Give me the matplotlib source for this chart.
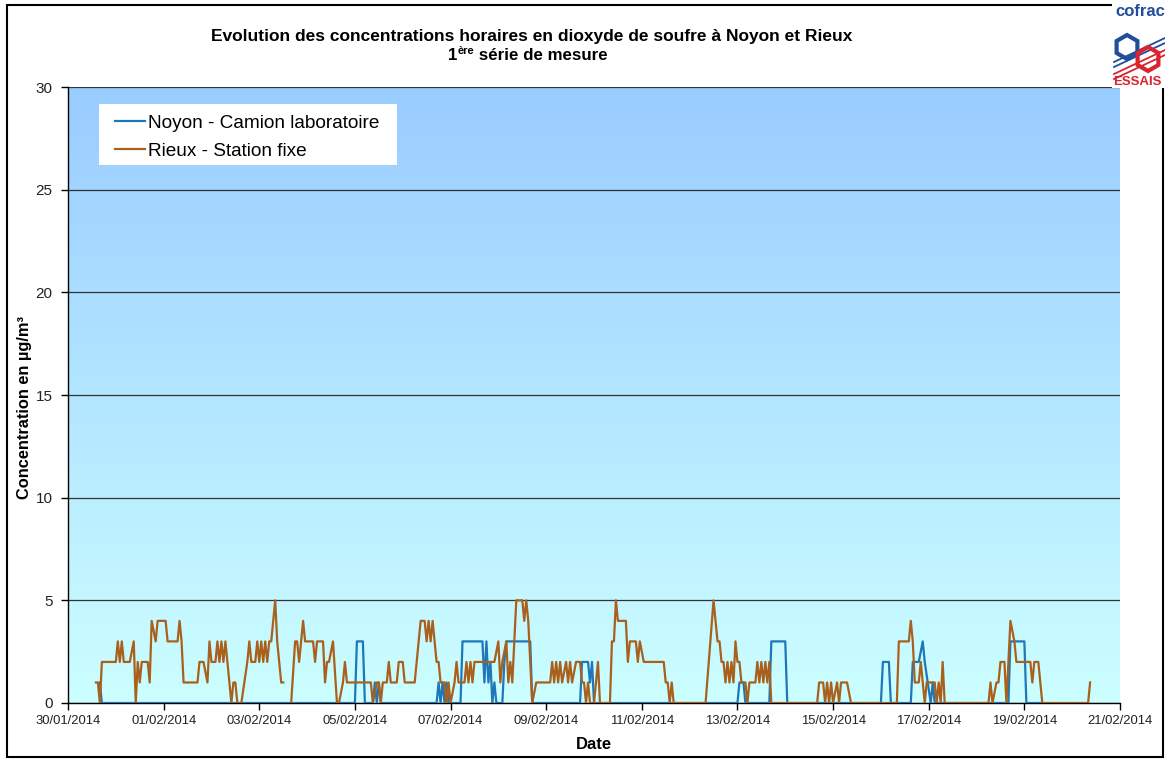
import numpy as np
import pandas as pd
import matplotlib
matplotlib.use("Agg")
import matplotlib.pyplot as plt
import matplotlib.dates as mdates
from matplotlib.patches import Rectangle, RegularPolygon
from matplotlib.lines import Line2D

plt.rcParams['font.family'] = ['Liberation Sans', 'DejaVu Sans']

# hourly SO2 concentrations (µg/m3), hours counted from 30/01/2014 00:00
# only the turning points of each curve are kept
noyon_hours = [16, 17, 144, 145, 148, 149, 153, 154, 155, 156, 157, 185, 186, 187, 188, 189, 190, 191,
               197, 198, 207, 208, 209, 210, 211, 212, 213, 214, 215, 218, 219, 220, 232, 233,
               257, 258, 261, 262, 263, 264, 336, 337, 339, 340, 352, 353, 360, 361,
               408, 409, 412, 413, 423, 424, 427, 429, 430, 433, 434, 435, 472, 473, 480, 481, 489]
noyon_values = [1, 0, 0, 3, 3, 0, 0, 1, 0, 1, 0, 0, 1, 0, 1, 0, 1, 0,
                0, 3, 3, 3, 1, 3, 1, 2, 0, 1, 0, 0, 2, 3, 3, 0,
                0, 2, 2, 1, 2, 0, 0, 1, 1, 0, 0, 3, 3, 0,
                0, 2, 2, 0, 0, 2, 2, 3, 2, 0, 1, 0, 0, 3, 3, 0, 0]

rieux_hours = [14, 15, 16, 17, 24, 25, 26, 27, 28, 31, 33, 34, 35, 36, 37, 40, 41, 42, 44, 45, 49, 50,
               55, 56, 57, 58, 65, 66, 68, 70, 71, 72, 74, 75, 76, 77, 78, 79, 80, 82, 83, 84, 85, 87,
               90, 91, 92, 94, 95, 96, 97, 98, 99, 100, 101, 102, 104, 105, 107, 108, 110, 112, 114,
               115, 116, 118, 119, 123, 124, 125, 128, 129, 130, 131, 133, 135, 136, 138, 139, 140,
               152, 153, 155, 156, 157, 158, 160, 161, 162, 165, 166, 168, 169, 174, 175, 176, 177,
               179, 180, 181, 182, 183, 184, 185, 186, 187, 189, 190, 191, 192, 194, 195, 196, 199,
               200, 201, 202, 203, 204, 214, 216, 217, 218, 220, 221, 222, 223, 224, 225, 228, 229,
               230, 231, 233, 235, 242, 243, 244, 245, 246, 247, 248, 250, 251, 252, 253, 255, 257,
               258, 259, 260, 261, 262, 264, 266, 267, 272, 273, 274, 275, 276, 280, 281, 282, 285,
               286, 287, 289, 299, 300, 301, 302, 303, 304, 320, 324, 325, 326, 327, 328, 329, 330,
               331, 332, 333, 334, 335, 336, 337, 338, 340, 341, 342, 345, 346, 347, 348, 349, 350,
               351, 352, 353, 376, 377, 379, 380, 381, 382, 383, 384, 386, 387, 388, 391, 393, 416,
               417, 422, 423, 424, 425, 427, 428, 429, 430, 431, 435, 436, 437, 438, 439, 440, 462,
               463, 464, 466, 467, 468, 470, 471, 473, 475, 476, 483, 484, 485, 487, 489, 512, 513]
rieux_values = [1, 1, 0, 2, 2, 3, 2, 3, 2, 2, 3, 0, 2, 1, 2, 2, 1, 4, 3, 4, 4, 3,
                3, 4, 3, 1, 1, 2, 2, 1, 3, 2, 2, 3, 2, 3, 2, 3, 2, 0, 1, 1, 0, 0,
                2, 3, 2, 2, 3, 2, 3, 2, 3, 2, 3, 3, 5, 3, 1, 1, np.nan, 0, 3,
                3, 2, 4, 3, 3, 2, 3, 3, 1, 2, 2, 3, 0, 0, 1, 2, 1,
                1, 0, 1, 1, 0, 1, 1, 2, 1, 1, 2, 2, 1, 1, 2, 3, 4,
                4, 3, 4, 3, 4, 3, 2, 2, 1, 1, 0, 1, 0, 1, 2, 1, 1,
                2, 1, 2, 1, 2, 2, 3, 1, 2, 3, 1, 2, 1, 3, 5, 5, 4,
                5, 4, 0, 1, 1, 2, 1, 2, 1, 2, 1, 2, 1, 2, 1, 2, 2,
                1, 1, 0, 1, 0, 0, 2, 0, 0, 3, 3, 5, 4, 4, 2, 3, 3,
                2, 3, 2, 2, 1, 1, 0, 1, 0, 0, 5, 4, 3, 3, 2, 2, 1,
                2, 1, 2, 1, 3, 2, 2, 1, 1, 0, 1, 1, 2, 1, 2, 1, 2,
                1, 2, 0, 0, 1, 1, 0, 1, 0, 1, 0, 1, 0, 1, 1, 0, 0,
                3, 3, 4, 3, 1, 1, 2, 1, 0, 1, 1, 0, 1, 0, 2, 0, 0,
                1, 0, 1, 1, 2, 2, 0, 4, 3, 2, 2, 1, 2, 2, 0, 0, 1]

series_names = ['Noyon - Camion laboratoire', 'Rieux - Station fixe']
series_colors = ['#1f77b8', '#a8601c']
title_line1 = 'Evolution des concentrations horaires en dioxyde de soufre à Noyon et Rieux'

start = pd.Timestamp('2014-01-30')
end = pd.Timestamp('2014-02-21')
t_noyon = (start + pd.to_timedelta(noyon_hours, unit='h')).to_pydatetime()
t_rieux = (start + pd.to_timedelta(rieux_hours, unit='h')).to_pydatetime()
date_ticks = pd.date_range(start, end, freq='2D').to_pydatetime()

W, H = 1165, 760
fig = plt.figure(figsize=(W / 100, H / 100), dpi=100)
ax = fig.add_axes([68 / W, 57 / H, 1052 / W, 616 / H])
ax.patch.set_facecolor('none')

# gradient background of the plot area
grad = np.linspace(0, 1, 256)[:, None]
top_col = np.array([153, 204, 255]) / 255
bot_col = np.array([204, 255, 255]) / 255
img = top_col[None, None, :] * (1 - grad[:, :, None]) + bot_col[None, None, :] * grad[:, :, None]
ax.imshow(img, extent=[0, 1, 0, 1], transform=ax.transAxes, aspect='auto', zorder=-1)

ax.plot(t_noyon, noyon_values, color=series_colors[0], lw=1.6, label=series_names[0], zorder=3)
ax.plot(t_rieux, rieux_values, color=series_colors[1], lw=1.6, label=series_names[1], zorder=4)

ax.set_xlim(start.to_pydatetime(), end.to_pydatetime())
ax.set_ylim(0, 30)
ax.set_yticks(range(0, 31, 5))
ax.set_xticks(date_ticks)
ax.xaxis.set_major_formatter(mdates.DateFormatter('%d/%m/%Y'))
ax.yaxis.grid(True, color='#333333', lw=0.9)
ax.set_axisbelow(True)

for s in ['top', 'right']:
    ax.spines[s].set_visible(False)
for s in ['left', 'bottom']:
    ax.spines[s].set_color('black')
    ax.spines[s].set_linewidth(1)
ax.tick_params(axis='both', direction='out', length=5, width=1, color='black')
ax.tick_params(axis='y', labelsize=11, pad=6, labelcolor='#222222')
ax.tick_params(axis='x', labelsize=9.4, pad=4, labelcolor='#222222')

ax.set_ylabel('Concentration en µg/m³', fontsize=11.8, fontweight='bold')
ax.yaxis.set_label_coords(-0.034, 0.479)
ax.set_xlabel('Date', fontsize=12, fontweight='bold')
ax.xaxis.set_label_coords(0.5, -0.056)

# legend: white box plus frameless legend
ax.add_patch(Rectangle((0.0295, 0.8734), 0.2833, 0.099, transform=ax.transAxes,
                       facecolor='white', edgecolor='none', zorder=5))
leg = ax.legend(loc='upper left', bbox_to_anchor=(0.0447, 0.955), fontsize=13.7, frameon=False,
                borderaxespad=0, borderpad=0, handlelength=1.58, handletextpad=0.16,
                labelspacing=0.55)
leg.set_zorder(6)

# title
fig.text(532 / W, 1 - 37 / H, title_line1, ha='center', va='center', fontsize=12.5, fontweight='bold')
r = fig.canvas.get_renderer()
y2 = 1 - 60 / H
p1 = fig.text(0, y2, '1', fontsize=12.2, fontweight='bold', va='baseline')
p2 = fig.text(0, y2, 'ère', fontsize=8, fontweight='bold', va='baseline')
p3 = fig.text(0, y2, ' série de mesure', fontsize=12.2, fontweight='bold', va='baseline')
w1 = p1.get_window_extent(r).width
w2 = p2.get_window_extent(r).width
w3 = p3.get_window_extent(r).width
x0 = 528 - (w1 + w2 + w3) / 2
p1.set_position((x0 / W, y2))
p2.set_position(((x0 + w1) / W, y2 + 6 / H))
p3.set_position(((x0 + w1 + w2) / W, y2))

# outer border
fig.add_artist(Rectangle((7 / W, 3 / H), 1156 / W, 752 / H, transform=fig.transFigure,
                         fill=False, lw=1.5, edgecolor='black'))

# cofrac logo (rough)
fig.add_artist(Rectangle((1112 / W, 1 - 88 / H), 53 / W, 88 / H, transform=fig.transFigure,
                         facecolor='white', edgecolor='none', zorder=5))
fig.text(1115 / W, 1 - 12 / H, 'cofrac', color='#1f4e9c', fontsize=12, fontweight='bold',
         va='center', ha='left', zorder=6)
for cx, cy, col in [(1127, 47, '#1f4e9c'), (1148, 59, '#d9232e')]:
    fig.add_artist(RegularPolygon((cx / 100, (H - cy) / 100), 6, radius=0.12,
                                  transform=fig.dpi_scale_trans, fill=False, lw=3,
                                  edgecolor=col, zorder=7))
for dy, col in [(0, '#1f4e9c'), (5, '#1f4e9c'), (12, '#d9232e'), (17, '#d9232e')]:
    fig.add_artist(Line2D([1114 / W, 1165 / W], [1 - (62 + dy) / H, 1 - (38 + dy) / H],
                          transform=fig.transFigure, color=col, lw=1.3, zorder=6))
fig.text(1113 / W, 1 - 82 / H, 'ESSAIS', color='#d9232e', fontsize=9.5, fontweight='bold',
         va='center', ha='left', zorder=6)

fig.savefig('out.png', dpi=100)
